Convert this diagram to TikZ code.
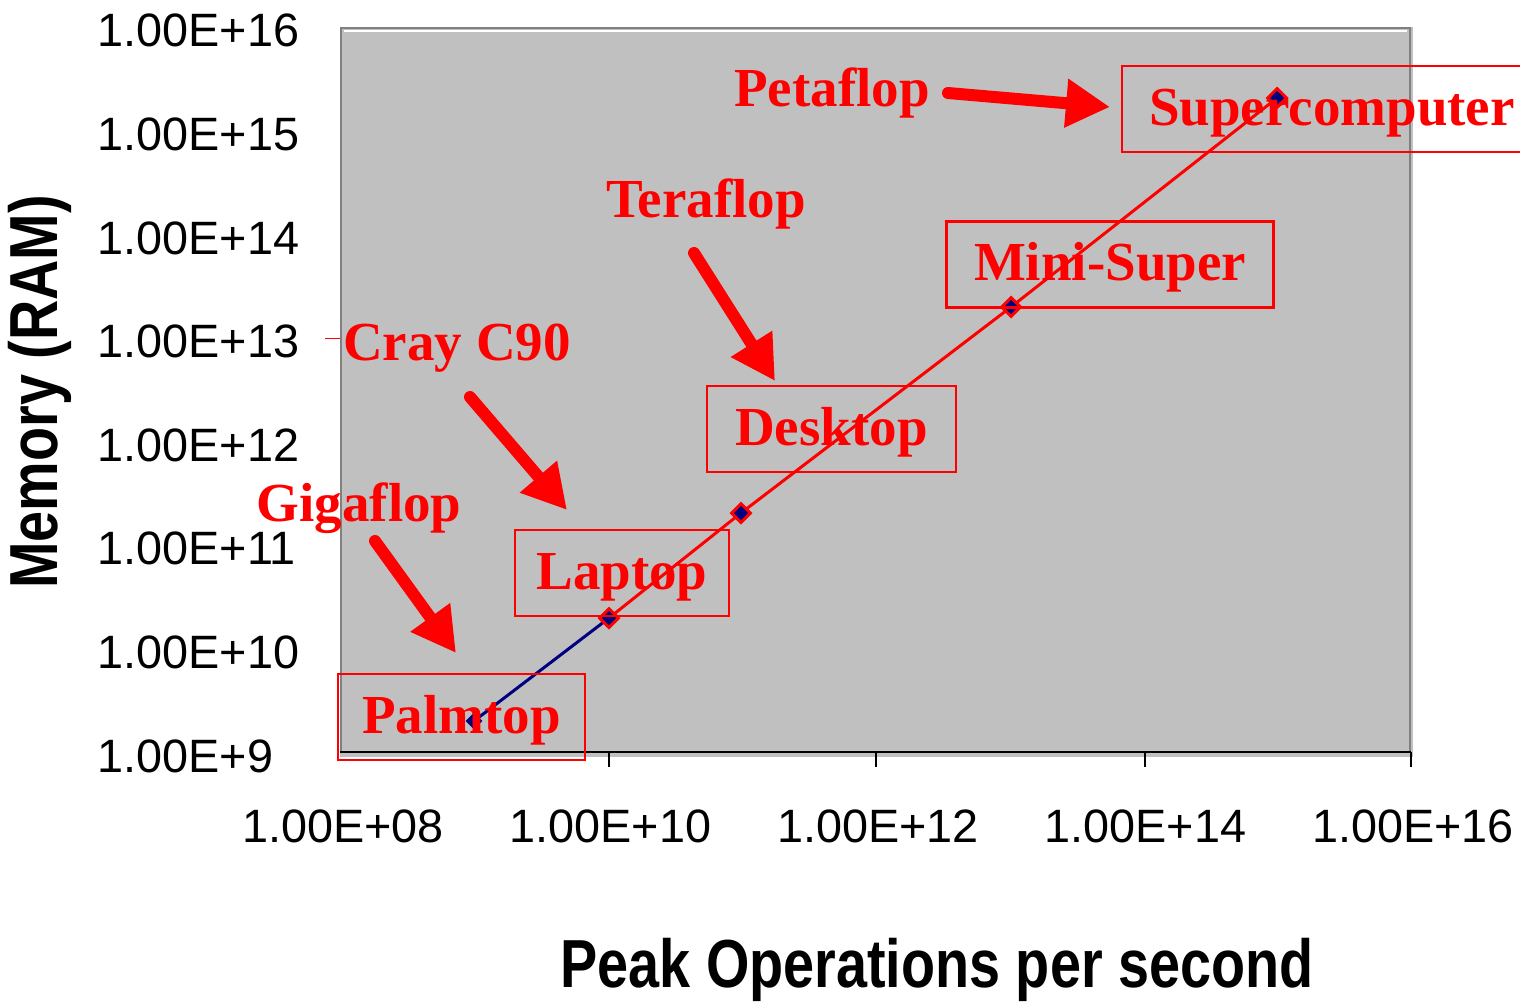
\documentclass[tikz,border=0pt]{standalone}
\usepackage{fontspec}
\setmainfont{Liberation Serif}
\newfontfamily\arialfont{Liberation Sans}
\usetikzlibrary{shapes.geometric,arrows.meta}

\definecolor{plotgray}{HTML}{C0C0C0}
\definecolor{framegray}{HTML}{808080}
\definecolor{navy}{HTML}{000080}

\tikzset{
  ticklabel/.style={font=\arialfont\fontsize{23.4}{25}\selectfont, inner sep=0pt},
  axistitle/.style={font=\arialfont\bfseries\fontsize{34}{36}\selectfont, xscale=0.82, inner sep=0pt},
  redlabel/.style={text=red, font=\bfseries\fontsize{27.5}{30}\selectfont, inner sep=0pt,
    text height=20pt, text depth=4pt},
  classbox/.style={redlabel, draw=red, line width=1.1pt, minimum height=43pt},
  datapoint/.style={diamond, fill=navy, draw=red, line width=1.5pt, minimum size=10pt, inner sep=0pt},
  bigarrow/.style={red, line width=6pt, line cap=round, -{Triangle[length=22pt,width=23pt]}},
}

\begin{document}
\begin{tikzpicture}[x=0.5pt,y=-0.5pt]
\clip (0,0) rectangle (1520,1002);
\fill[white] (0,0) rectangle (1520,1002);

% plot area
\fill[plotgray] (340,27) rectangle (1413,757);
\draw[framegray, line width=1.4pt] (341,752) -- (341,28) -- (1410,28) -- (1410,752);
\draw[white, line width=0.6pt] (344,31) -- (1407,31);
\draw[black, line width=0.8pt] (340,752) -- (1411,752);
\foreach \x in {609,876,1145,1411}
  \draw[black, line width=0.6pt] (\x,752) -- (\x,767);
\draw[red, line width=0.5pt] (325,338) -- (340,338);

% axis labels
\foreach \lab [count=\i from 0] in {08,10,12,14,16}
  \node[ticklabel] (xt\i) at (343+267.5*\i,826) {1.00E+\lab};
\foreach \lab [count=\i from 0] in {9,...,16}
  \node[ticklabel, anchor=west] (yt\i) at (97,756-103.6*\i) {1.00E+\lab};

\node[axistitle] (xtitle) at (937,970) {Peak Operations per second};
\node[rotate=90, axistitle] (ytitle) at (40,392) {Memory (RAM)};

% data
\coordinate (palm) at (474,721);
\coordinate (lap) at (609,618);
\coordinate (desk) at (741,513);
\coordinate (mini) at (1011,307);
\coordinate (super) at (1277,98);

\draw[navy, line width=1.5pt] (palm) -- (lap);
\draw[red, line width=1.5pt] (lap) -- (desk) -- (mini) -- (super);
\foreach \p in {lap,desk,mini,super}
  \node[datapoint] (\p mark) at (\p) {};
\node[datapoint, draw=none, minimum size=9pt] (palmmark) at (palm) {};

% classes
\node[classbox, minimum width=210pt] (superbox) at (1332,109) {Supercomputer};
\node[classbox, minimum width=163.5pt] (minibox) at (1110,264.5) {Mini-Super};
\node[classbox, minimum width=124.5pt] (deskbox) at (831.5,429) {Desktop};
\node[classbox, minimum width=107pt] (lapbox) at (622,573) {Laptop};
\node[classbox, minimum width=123.5pt] (palmbox) at (461.5,717) {Palmtop};

% speeds
\node[redlabel] (peta) at (832,90) {Petaflop};
\node[redlabel] (tera) at (706,201) {Teraflop};
\node[redlabel] (cray) at (457,344) {Cray C90};
\node[redlabel] (giga) at (359,505) {Gigaflop};

\coordinate (petatail) at (948,93);
\coordinate (petatip) at (1110,107);
\coordinate (teratail) at (694,253);
\coordinate (teratip) at (775,381);
\coordinate (craytail) at (470,397);
\coordinate (craytip) at (567,510);
\coordinate (gigatail) at (375,541);
\coordinate (gigatip) at (456,653);

\draw[bigarrow] (petatail) -- (petatip);
\draw[bigarrow] (teratail) -- (teratip);
\draw[bigarrow] (craytail) -- (craytip);
\draw[bigarrow] (gigatail) -- (gigatip);
\end{tikzpicture}
\end{document}
